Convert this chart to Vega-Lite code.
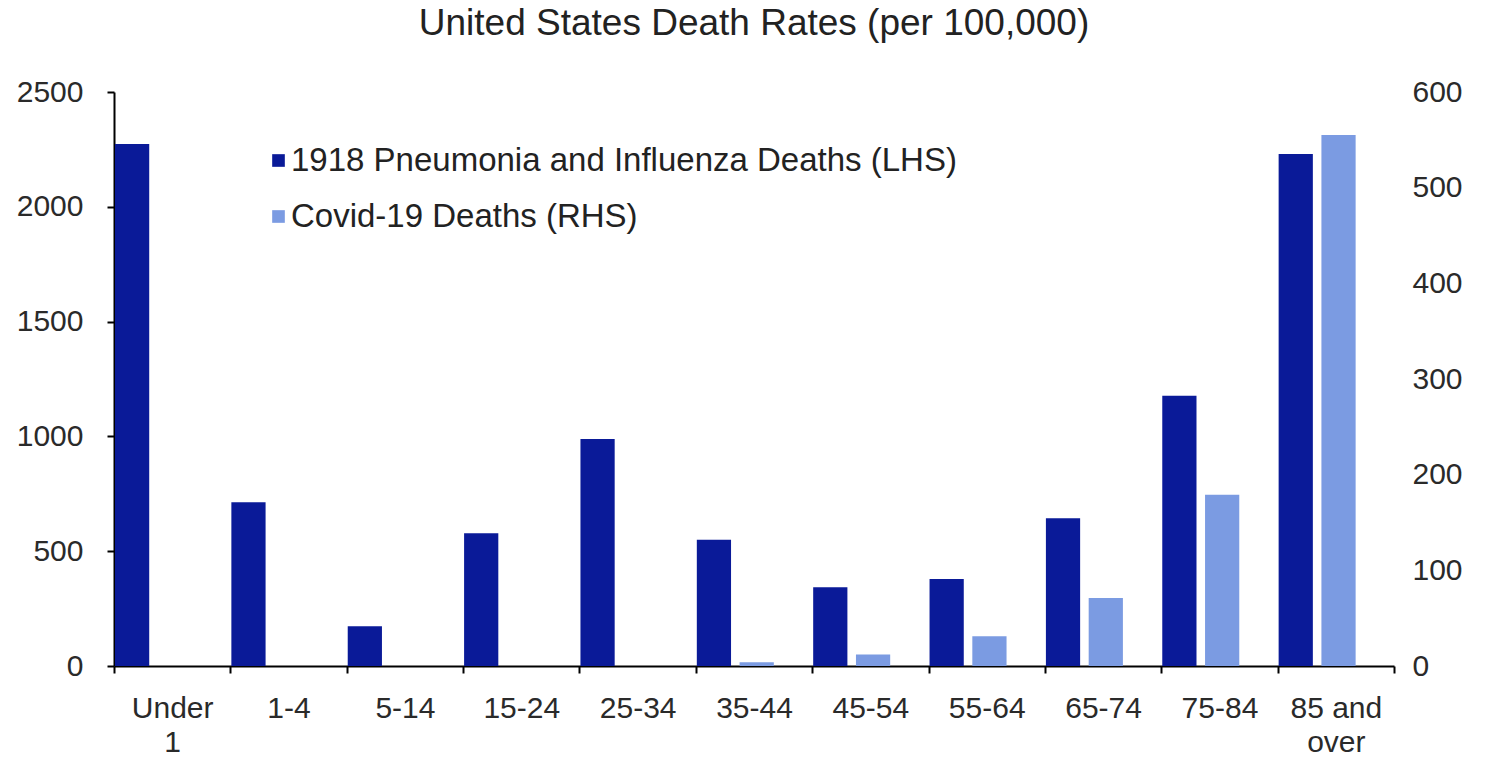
{
  "$schema": "https://vega.github.io/schema/vega-lite/v6.json",
  "width": 1280,
  "height": 574,
  "padding": {"left": 0, "top": 5, "right": 0, "bottom": 0},
  "background": "white",
  "title": {
    "text": "United States Death Rates (per 100,000)",
    "fontSize": 37,
    "font": "Liberation Sans",
    "fontWeight": "normal",
    "color": "#222222",
    "offset": 34,
    "anchor": "middle"
  },
  "config": {
    "view": {"stroke": null},
    "font": "Liberation Sans",
    "axis": {
      "grid": false,
      "labelFont": "Liberation Sans",
      "labelFontSize": 30,
      "labelColor": "#2a2a2a",
      "domainColor": "#000000",
      "domainWidth": 2,
      "tickColor": "#000000",
      "tickWidth": 2,
      "tickSize": 7,
      "title": null
    }
  },
  "data": {
    "values": [
      {"age": "Under 1", "series": "1918 Pneumonia and Influenza Deaths (LHS)", "rate": 2273},
      {"age": "1-4", "series": "1918 Pneumonia and Influenza Deaths (LHS)", "rate": 713},
      {"age": "5-14", "series": "1918 Pneumonia and Influenza Deaths (LHS)", "rate": 173},
      {"age": "15-24", "series": "1918 Pneumonia and Influenza Deaths (LHS)", "rate": 578},
      {"age": "25-34", "series": "1918 Pneumonia and Influenza Deaths (LHS)", "rate": 989},
      {"age": "35-44", "series": "1918 Pneumonia and Influenza Deaths (LHS)", "rate": 550},
      {"age": "45-54", "series": "1918 Pneumonia and Influenza Deaths (LHS)", "rate": 343},
      {"age": "55-64", "series": "1918 Pneumonia and Influenza Deaths (LHS)", "rate": 379},
      {"age": "65-74", "series": "1918 Pneumonia and Influenza Deaths (LHS)", "rate": 643},
      {"age": "75-84", "series": "1918 Pneumonia and Influenza Deaths (LHS)", "rate": 1177},
      {"age": "85 and over", "series": "1918 Pneumonia and Influenza Deaths (LHS)", "rate": 2230},
      {"age": "Under 1", "series": "Covid-19 Deaths (RHS)", "rate": 0},
      {"age": "1-4", "series": "Covid-19 Deaths (RHS)", "rate": 0},
      {"age": "5-14", "series": "Covid-19 Deaths (RHS)", "rate": 0},
      {"age": "15-24", "series": "Covid-19 Deaths (RHS)", "rate": 0},
      {"age": "25-34", "series": "Covid-19 Deaths (RHS)", "rate": 0},
      {"age": "35-44", "series": "Covid-19 Deaths (RHS)", "rate": 4},
      {"age": "45-54", "series": "Covid-19 Deaths (RHS)", "rate": 12},
      {"age": "55-64", "series": "Covid-19 Deaths (RHS)", "rate": 31},
      {"age": "65-74", "series": "Covid-19 Deaths (RHS)", "rate": 71},
      {"age": "75-84", "series": "Covid-19 Deaths (RHS)", "rate": 179},
      {"age": "85 and over", "series": "Covid-19 Deaths (RHS)", "rate": 555}
    ]
  },
  "encoding": {
    "x": {
      "field": "age",
      "type": "nominal",
      "scale": {
        "domain": ["Under 1", "1-4", "5-14", "15-24", "25-34", "35-44", "45-54", "55-64", "65-74", "75-84", "85 and over"],
        "paddingInner": 0,
        "paddingOuter": 0
      },
      "axis": {
        "labelAngle": 0,
        "tickBand": "extent",
        "labelPadding": 20,
        "labelLineHeight": 34,
        "labelBaseline": "top",
        "labelExpr": "datum.label == 'Under 1' ? ['Under', '1'] : datum.label == '85 and over' ? ['85 and', 'over'] : datum.label"
      }
    },
    "xOffset": {
      "field": "series",
      "type": "nominal",
      "scale": {
        "domain": ["1918 Pneumonia and Influenza Deaths (LHS)", "Covid-19 Deaths (RHS)"],
        "range": [1, 78],
        "paddingInner": 0.2,
        "paddingOuter": 0
      }
    },
    "color": {
      "field": "series",
      "type": "nominal",
      "scale": {
        "domain": ["1918 Pneumonia and Influenza Deaths (LHS)", "Covid-19 Deaths (RHS)"],
        "range": ["#0a1a98", "#7b9be2"]
      },
      "legend": {
        "orient": "none",
        "legendX": 148,
        "legendY": 52,
        "title": null,
        "symbolType": "square",
        "symbolSize": 160,
        "symbolStrokeWidth": 0,
        "labelFontSize": 33,
        "labelColor": "#222222",
        "labelFont": "Liberation Sans",
        "labelOffset": -4,
        "rowPadding": 22,
        "labelLimit": 1000
      }
    }
  },
  "layer": [
    {
      "transform": [{"filter": "datum.series == '1918 Pneumonia and Influenza Deaths (LHS)'"}],
      "mark": {"type": "bar"},
      "encoding": {
        "y": {
          "field": "rate",
          "type": "quantitative",
          "scale": {"domain": [0, 2500], "nice": false},
          "axis": {
            "orient": "left",
            "values": [0, 500, 1000, 1500, 2000, 2500],
            "format": "d",
            "labelPadding": 24,
            "minExtent": 114,
            "maxExtent": 114
          }
        }
      }
    },
    {
      "transform": [{"filter": "datum.series == 'Covid-19 Deaths (RHS)'"}],
      "mark": {"type": "bar"},
      "encoding": {
        "y": {
          "field": "rate",
          "type": "quantitative",
          "scale": {"domain": [0, 600], "nice": false},
          "axis": {
            "orient": "right",
            "values": [0, 100, 200, 300, 400, 500, 600],
            "format": "d",
            "domain": false,
            "ticks": false,
            "labelPadding": 18
          }
        }
      }
    }
  ],
  "resolve": {"scale": {"y": "independent"}}
}
